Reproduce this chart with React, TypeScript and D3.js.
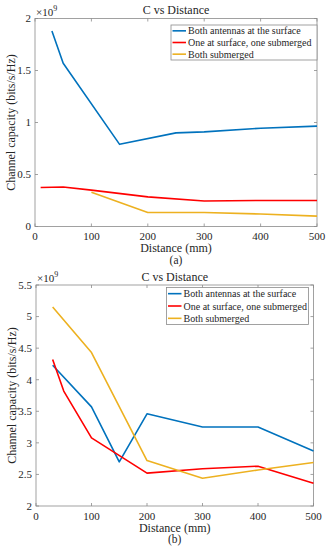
import React from "react";
import { useEffect, useRef } from "react";
import * as d3 from "d3";

const seriesNames = [
  "Both antennas at the surface",
  "One at surface, one submerged",
  "Both submerged",
];
const colors = ["#0072BD", "#FF0000", "#EDB120"];
const xTicks = [0, 100, 200, 300, 400, 500];

// (a) values in units of 1e9
const aBlueX = [30, 50, 150, 250, 300, 400, 500];
const aBlueY = [1.88, 1.57, 0.79, 0.9, 0.91, 0.945, 0.965];
const aRedX = [10, 50, 100, 200, 300, 400, 500];
const aRedY = [0.375, 0.38, 0.35, 0.285, 0.245, 0.25, 0.25];
const aYellowX = [100, 200, 300, 400, 500];
const aYellowY = [0.33, 0.135, 0.135, 0.12, 0.1];
const aYTicks = [0, 0.5, 1, 1.5, 2];

// (b)
const bBlueX = [30, 100, 150, 200, 300, 400, 500];
const bBlueY = [4.23, 3.57, 2.7, 3.46, 3.25, 3.25, 2.87];
const bRedX = [30, 50, 100, 200, 300, 400, 500];
const bRedY = [4.32, 3.82, 3.08, 2.52, 2.59, 2.63, 2.36];
const bYellowX = [30, 100, 200, 300, 400, 500];
const bYellowY = [5.15, 4.43, 2.72, 2.44, 2.57, 2.69];
const bYTicks = [2, 2.5, 3, 3.5, 4, 4.5, 5, 5.5];

const FONT = "Liberation Serif, Times New Roman, serif";
const TXT = "#262626";
const AX = "#8a8a8a";

function drawPanel(
  svg: any,
  box: { left: number; right: number; top: number; bottom: number },
  yDomain: number[],
  yTicks: number[],
  series: { x: number[]; y: number[] }[],
  legend: { left: number; right: number; top: number; bottom: number },
  caption: string
) {
  const x = d3.scaleLinear().domain([0, 500]).range([box.left, box.right]);
  const y = d3.scaleLinear().domain(yDomain).range([box.bottom, box.top]);
  const g = svg.append("g").style("font-family", FONT);

  // box
  g.append("rect")
    .attr("x", box.left)
    .attr("y", box.top)
    .attr("width", box.right - box.left)
    .attr("height", box.bottom - box.top)
    .attr("fill", "white")
    .attr("stroke", AX)
    .attr("stroke-width", 0.8);

  // ticks
  xTicks.forEach((t) => {
    g.append("line")
      .attr("x1", x(t)).attr("x2", x(t))
      .attr("y1", box.bottom).attr("y2", box.bottom - 3)
      .attr("stroke", AX).attr("stroke-width", 0.8);
    g.append("line")
      .attr("x1", x(t)).attr("x2", x(t))
      .attr("y1", box.top).attr("y2", box.top + 3)
      .attr("stroke", AX).attr("stroke-width", 0.8);
    g.append("text")
      .attr("x", x(t))
      .attr("y", box.bottom + 13.5)
      .attr("text-anchor", "middle")
      .style("font-size", "11px")
      .attr("fill", TXT)
      .text(t);
  });
  yTicks.forEach((t) => {
    g.append("line")
      .attr("x1", box.left).attr("x2", box.left + 3)
      .attr("y1", y(t)).attr("y2", y(t))
      .attr("stroke", AX).attr("stroke-width", 0.8);
    g.append("line")
      .attr("x1", box.right).attr("x2", box.right - 3)
      .attr("y1", y(t)).attr("y2", y(t))
      .attr("stroke", AX).attr("stroke-width", 0.8);
    g.append("text")
      .attr("x", box.left - 4)
      .attr("y", y(t) + 3.8)
      .attr("text-anchor", "end")
      .style("font-size", "11px")
      .attr("fill", TXT)
      .text(String(t));
  });

  // lines
  const line = d3
    .line<[number, number]>()
    .x((d) => x(d[0]))
    .y((d) => y(d[1]));
  series.forEach((s, i) => {
    const pts = s.x.map((v, j) => [v, s.y[j]] as [number, number]);
    g.append("path")
      .datum(pts)
      .attr("fill", "none")
      .attr("stroke", colors[i])
      .attr("stroke-width", 1.6)
      .attr("stroke-linejoin", "round")
      .attr("d", line);
  });

  // multiplier
  const m = g.append("text")
    .attr("x", box.left + 1)
    .attr("y", box.top - 3)
    .style("font-size", "11px")
    .attr("fill", TXT);
  m.append("tspan").text("×10");
  m.append("tspan").style("font-size", "8px").attr("dy", -5).text("9");

  // title
  const cx = (box.left + box.right) / 2;
  g.append("text")
    .attr("x", cx)
    .attr("y", box.top - 4.5)
    .attr("text-anchor", "middle")
    .style("font-size", "12px")
    .attr("fill", TXT)
    .text("C vs Distance");

  // axis labels
  g.append("text")
    .attr("x", cx)
    .attr("y", box.bottom + 25.5)
    .attr("text-anchor", "middle")
    .style("font-size", "12px")
    .attr("fill", TXT)
    .text("Distance (mm)");
  g.append("text")
    .attr("x", cx)
    .attr("y", box.bottom + 37)
    .attr("text-anchor", "middle")
    .style("font-size", "11.5px")
    .attr("fill", TXT)
    .text(caption);
  g.append("text")
    .attr("transform", `translate(${box.left - 20},${(box.top + box.bottom) / 2}) rotate(-90)`)
    .attr("text-anchor", "middle")
    .style("font-size", "12px")
    .attr("fill", TXT)
    .text("Channel capacity (bits/s/Hz)");

  // legend
  g.append("rect")
    .attr("x", legend.left)
    .attr("y", legend.top)
    .attr("width", legend.right - legend.left)
    .attr("height", legend.bottom - legend.top)
    .attr("fill", "white")
    .attr("stroke", AX)
    .attr("stroke-width", 0.8);
  const step = (legend.bottom - legend.top) / 3;
  seriesNames.forEach((n, i) => {
    const ly = legend.top + step * (i + 0.5);
    g.append("line")
      .attr("x1", legend.left + 1.5).attr("x2", legend.left + 15)
      .attr("y1", ly).attr("y2", ly)
      .attr("stroke", colors[i]).attr("stroke-width", 1.6);
    g.append("text")
      .attr("x", legend.left + 17)
      .attr("y", ly + 3.5)
      .style("font-size", "10px")
      .attr("fill", TXT)
      .text(n);
  });
}

const App = () => {
  const ref = useRef<SVGSVGElement>(null);

  useEffect(() => {
    const svg = d3.select(ref.current);
    svg.selectAll("*").remove();

    drawPanel(
      svg,
      { left: 35, right: 317, top: 18.5, bottom: 226.5 },
      [0, 2],
      aYTicks,
      [
        { x: aBlueX, y: aBlueY },
        { x: aRedX, y: aRedY },
        { x: aYellowX, y: aYellowY },
      ],
      { left: 171, right: 317, top: 25, bottom: 60 },
      "(a)"
    );
    drawPanel(
      svg,
      { left: 36, right: 313.5, top: 285, bottom: 506 },
      [2, 5.5],
      bYTicks,
      [
        { x: bBlueX, y: bBlueY },
        { x: bRedX, y: bRedY },
        { x: bYellowX, y: bYellowY },
      ],
      { left: 166.5, right: 308.5, top: 287.5, bottom: 324.5 },
      "(b)"
    );
  }, []);

  return (
    <svg
      ref={ref}
      width={329}
      height={550}
      style={{ position: "absolute", left: 0, top: 0, background: "white" }}
    />
  );
};

export default App;
